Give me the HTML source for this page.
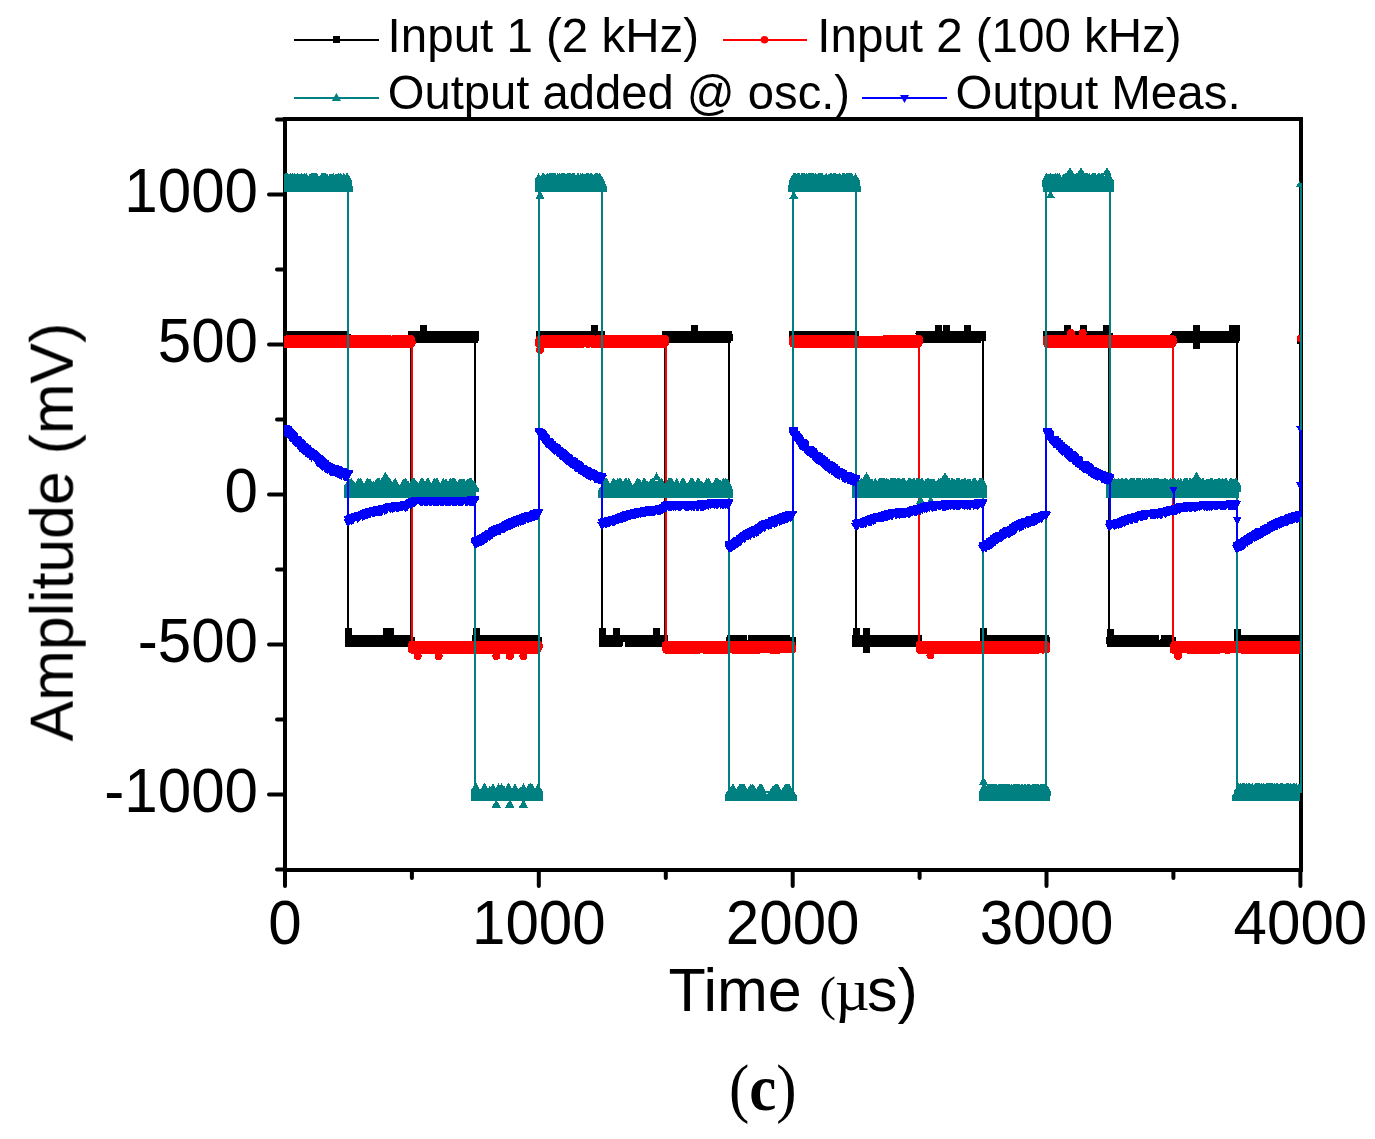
<!DOCTYPE html>
<html><head><meta charset="utf-8"><style>
html,body{margin:0;padding:0;background:#fff;overflow:hidden}
svg{display:block}
text{will-change:transform}
</style></head><body>
<svg width="1375" height="1139" viewBox="0 0 1375 1139">
<rect width="100%" height="100%" fill="#fff"/>
<text x="387.6" y="52.3" font-size="47.5" font-family="Liberation Sans, sans-serif">Input 1 (2 kHz)</text>
<text x="817.3" y="52.3" font-size="47.5" font-family="Liberation Sans, sans-serif">Input 2 (100 kHz)</text>
<text x="387.7" y="108.5" font-size="47.2" font-family="Liberation Sans, sans-serif">Output added @ osc.)</text>
<text x="955.5" y="108.5" font-size="47.5" font-family="Liberation Sans, sans-serif">Output Meas.</text>
<rect x="294" y="39" width="85" height="2" fill="#000"/><rect x="333" y="36" width="7" height="7" fill="#000"/>
<rect x="723" y="39" width="84" height="2" fill="#f00"/><circle cx="764.5" cy="39.8" r="3.8" fill="#f00"/>
<rect x="294" y="97" width="85" height="2" fill="#008080"/><path d="M336.4,92.9L341,100.9H331.8Z" fill="#008080"/>
<rect x="862" y="97" width="85" height="2" fill="#00f"/><path d="M900,94.9H909L904.5,102.9Z" fill="#00f"/>
<path d="M285,119 H1301 V870 H285 Z" fill="none" stroke="#000" stroke-width="4" stroke-linejoin="miter"/>
<path d="M277.0,119.6H285M269.0,194.6H285M277.0,269.6H285M269.0,344.6H285M277.0,419.6H285M269.0,494.6H285M277.0,569.6H285M269.0,644.6H285M277.0,719.6H285M269.0,794.6H285M277.0,869.6H285M285.0,870V886.0M411.9,870V878.0M538.8,870V886.0M665.8,870V878.0M792.7,870V886.0M919.6,870V878.0M1046.5,870V886.0M1173.4,870V878.0M1300.4,870V886.0" fill="none" stroke="#000" stroke-width="4" stroke-linecap="round"/>
<text transform="translate(258,211.9) scale(0.985,1.03)" font-size="61" text-anchor="end" font-family="Liberation Sans, sans-serif">1000</text>
<text transform="translate(258,361.9) scale(0.985,1.03)" font-size="61" text-anchor="end" font-family="Liberation Sans, sans-serif">500</text>
<text transform="translate(258,511.9) scale(0.985,1.03)" font-size="61" text-anchor="end" font-family="Liberation Sans, sans-serif">0</text>
<text transform="translate(258,661.9) scale(0.985,1.03)" font-size="61" text-anchor="end" font-family="Liberation Sans, sans-serif">-500</text>
<text transform="translate(258,811.9) scale(0.985,1.03)" font-size="61" text-anchor="end" font-family="Liberation Sans, sans-serif">-1000</text>
<text transform="translate(285.0,944) scale(0.985,1.03)" font-size="61" text-anchor="middle" font-family="Liberation Sans, sans-serif">0</text>
<text transform="translate(538.8,944) scale(0.985,1.03)" font-size="61" text-anchor="middle" font-family="Liberation Sans, sans-serif">1000</text>
<text transform="translate(792.7,944) scale(0.985,1.03)" font-size="61" text-anchor="middle" font-family="Liberation Sans, sans-serif">2000</text>
<text transform="translate(1046.5,944) scale(0.985,1.03)" font-size="61" text-anchor="middle" font-family="Liberation Sans, sans-serif">3000</text>
<text transform="translate(1300.4,944) scale(0.985,1.03)" font-size="61" text-anchor="middle" font-family="Liberation Sans, sans-serif">4000</text>
<text x="668.4" y="1011" font-size="61" font-family="Liberation Sans, sans-serif">Time</text>
<text x="819.6" y="1010" font-size="49.5" font-family="Liberation Serif, serif">(</text>
<text x="835" y="1010" font-size="60" font-family="Liberation Serif, serif">&#181;</text>
<text x="867" y="1011" font-size="61" font-family="Liberation Sans, sans-serif">s)</text>
<text transform="translate(72.7,741.4) rotate(-90)" x="0" y="0" font-size="60.75" font-family="Liberation Sans, sans-serif">Amplitude (mV)</text>
<text transform="translate(729,1110) scale(0.945,1)" x="0" y="0" font-size="64.5" font-family="Liberation Serif, serif">(<tspan font-weight="bold">c</tspan>)</text>
<defs><clipPath id="pl"><rect x="284" y="117" width="1018.5" height="755"/></clipPath><clipPath id="pm"><rect x="284" y="117" width="1016" height="755"/></clipPath></defs>
<g shape-rendering="crispEdges">
<path clip-path="url(#pl)" d="M285,337.0H347.8V640.5H411V337.0H475.2V640.5H538.6V337.0H601.6V640.5H664.9V337.0H729V640.5H792.5V337.0H855.5V640.5H918.7V337.0H982.9V640.5H1046.3V337.0H1109.3V640.5H1172.5V337.0H1236.8V640.5H1300.6" fill="none" stroke="#000" stroke-width="2"/>
<path d="M281.5,331L349,331L349.5,333.5L351,333.5L351,343L283.5,343L283,340.5L281.5,340.5ZM344.5,634.5L413,634.5L413.5,637L414.5,637L414.5,644L414,646.5L345.5,646.5L345,644L344.5,644ZM407.5,331L478.5,331L478.5,340.5L478,343L408.5,343L408,340.5L407.5,340.5ZM472,634.5L540,634.5L540.5,637L542,637L542,644L541.5,646.5L498,646.5L497.5,641.5L497,641.5L496.5,646.5L473,646.5L472.5,644L472,644ZM535.5,331L604.5,331L605,333.5L605,343L586,343L585.5,338L584,338L583.5,343L537,343L536.5,340.5L535.5,340.5ZM598.5,637L599,634.5L668,634.5L668,644L667,644L666.5,646.5L625,646.5L624.5,641.5L623,641.5L622.5,646.5L598.5,646.5ZM661.5,331L732,331L732.5,333.5L732.5,340.5L731.5,340.5L731,343L663.5,343L663,340.5L661.5,340.5ZM726,637L726.5,637L727,634.5L747,634.5L747.5,639.5L748,639.5L748.5,634.5L790,634.5L790.5,637L795.5,637L795.5,646.5L726,646.5ZM789,333.5L789.5,331L858.5,331L859,333.5L859,340.5L856.5,340.5L856,343L789,343ZM852,634.5L922,634.5L922,644L921.5,646.5L852.5,646.5L852,644ZM915.5,333.5L916,331L986,331L986,340.5L981,340.5L980.5,343L915.5,343ZM979.5,634.5L1048.5,634.5L1049,637L1049.5,637L1049.5,644L1049,646.5L981.5,646.5L981,644L979.5,644ZM1043,331L1109,331L1109.5,332.5L1112.5,332.8L1112.5,340.5L1111.5,340.5L1110.5,341.4L1110,341.4L1109.5,343L1044,343L1043.5,340.5L1043,340.5ZM1106,637L1106.5,636.5L1107,636.5L1107.5,634.5L1159,634.5L1159.5,639.5L1160.5,639.5L1161,634.5L1174,634.5L1174.5,637L1176,637L1176,644L1175.5,646.5L1107,646.5L1106.5,644.1L1106,644.1ZM1169.5,333.5L1171.5,333.5L1172,331L1240,331L1240,340.5L1239,340.5L1238.5,343L1169.5,343ZM1233.5,634.5L1303.5,634.5L1304,637L1304,644L1303,644L1302.5,646.5L1236.5,646.5L1236,644L1233.5,644Z" fill="#000" clip-path="url(#pm)"/>
<path d="M419.5,324.5h7v7h-7ZM345,628h7v7h-7ZM383,628h7v7h-7ZM387,628h7v7h-7ZM472.5,628h7v7h-7ZM590.5,324.5h7v7h-7ZM690.5,324.5h7v7h-7ZM599,628h7v7h-7ZM612.5,628h7v7h-7ZM652.5,628h7v7h-7ZM935,324.5h7v7h-7ZM943,324.5h7v7h-7ZM964,324.5h7v7h-7ZM853,628h7v7h-7ZM862.5,628h7v7h-7ZM862.5,646h7v7h-7ZM979.5,628h7v7h-7ZM1063.5,325h7v7h-7ZM1079.5,325h7v7h-7ZM1103,325h7v7h-7ZM1192.5,325h7v7h-7ZM1192.5,341.5h7v7h-7ZM1228.5,325h7v7h-7ZM1233,325h7v7h-7ZM1107,628.5h7v7h-7ZM1233.5,628.5h7v7h-7ZM1297.1,336.5h7v7h-7Z" fill="#000" clip-path="url(#pm)"/>
<path clip-path="url(#pl)" d="M285,341.5H411.6V647.3H538.6V341.5H665.5V647.3H792.5V341.5H919.3V647.3H1046.3V341.5H1173.1V647.3H1300.6V341.5" fill="none" stroke="#f00" stroke-width="2"/>
<path d="M281,341.5L281.5,339.6L283,338L284.5,335.9L287,335L350.5,335.1L351,335.3L370,335.1L371,335.5L390.5,335.1L391.5,335.5L412,335.1L414,336.4L414.5,337.1L415.5,340.6L415.5,344L415,345.9L413,347.7L410.5,347.9L409.5,347.7L401.5,347.9L400.5,347.7L389,347.9L387.5,347.5L374.5,347.9L374,347.7L333.5,347.9L333,347.7L315,347.9L314.5,347.7L307,347.9L306.5,347.7L284,347.9L282,346.6L281.5,345.9L281,344ZM408,643.1L409.5,641.4L426.5,640.9L427.5,641.3L435.5,640.9L437,641.4L446,640.9L447,641.3L522,640.9L540,641.1L541.5,642L542.5,643.9L542.5,648.2L540,652.6L537.5,653.8L511,653.5L507,653.6L417,653.5L411,653.6L409.5,652.8L408.5,651.5L408,649ZM535,339.8L535.5,339L536,337.3L537.5,335.6L553.5,335.1L595,335.3L595.5,335.5L601,335.1L618.5,335.3L619,335.5L644,335.1L645,335.5L648,335.1L666.5,335.3L668,336.2L669,338.1L669,343.3L668,346.1L666,347.7L642.5,347.8L641.5,347.5L591.5,347.8L590.5,347.4L587.5,348L585,346.8L582.5,348L568,347.8L567,347.5L537.5,347.8L536,347L535,345.7ZM661.5,644.2L662,642.8L664,641.1L686,641.1L716.5,640.9L765.5,641.1L783.5,641.1L792.5,640.9L794.5,642.2L795,643L795.5,644.7L796,645.5L796,651.6L794.5,653.2L771,653.7L769.5,653.2L754,653.7L753,653.5L750.5,653.7L738,653.7L732,653.5L731.5,653.3L729,653.8L703.5,653.7L702,653.2L699,653.8L665.5,653.7L663.5,652.5L663,651.8L661.5,647.9ZM788.5,338.4L789,337L791,335.3L808,335.3L854.5,335.1L856,335.8L920,335.1L922,336.4L922.5,337.2L923,340L923,343L922,344.5L921,346.6L919,347.9L910,347.7L899,347.9L898,347.5L849,347.9L823,347.9L822,347.5L802.5,347.9L801.5,347.5L792.5,347.9L790.5,346.7L790,346L788.5,342.1ZM915.5,643.6L916.5,641.9L919,640.8L923.5,641L924.5,641.2L1047,641L1048.5,641.8L1049.5,643.3L1050,645.8L1050,651.3L1048.5,653.1L1042.5,653.7L1040.5,652.8L1038,653.8L918.5,653.6L917,652.7L916,651L915.5,648.5ZM1042.5,337.8L1043.5,336.1L1046,335L1058.5,335.2L1059.5,335.4L1123,335.2L1124,335.4L1170.5,335.2L1171,335.4L1173.5,335.1L1175.5,336L1176.5,337.5L1177,340.4L1177,342.6L1175.5,346.4L1173.5,347.8L1155.5,347.8L1154.5,347.6L1046,347.8L1044.5,346.9L1043.5,345.2L1042.5,342.7ZM1169.5,645.7L1170.5,644.3L1171.5,642.3L1173.5,641L1179,641L1180,641.6L1183,640.8L1230.5,641L1231.5,641.4L1253.5,640.9L1254.5,641.3L1300,641L1301.5,642L1302.5,643.7L1303.5,646.4L1303.5,648.2L1303,650.9L1302,652.6L1299.5,653.8L1241.5,653.6L1240.5,653.3L1225,653.6L1223.5,653L1219,653.7L1187,653.6L1186.5,653.4L1172,653.6L1170.5,652.8L1169.5,651.4Z" fill="#f00" clip-path="url(#pm)"/>
<path d="M413.7,656a4,4 0 1,0 8,0a4,4 0 1,0 -8,0ZM434.6,656a4,4 0 1,0 8,0a4,4 0 1,0 -8,0ZM492.3,656a4,4 0 1,0 8,0a4,4 0 1,0 -8,0ZM505.8,656a4,4 0 1,0 8,0a4,4 0 1,0 -8,0ZM519.4,656a4,4 0 1,0 8,0a4,4 0 1,0 -8,0ZM536,350a4,4 0 1,0 8,0a4,4 0 1,0 -8,0ZM926.4,655.4a4,4 0 1,0 8,0a4,4 0 1,0 -8,0ZM1067.2,333a4,4 0 1,0 8,0a4,4 0 1,0 -8,0ZM1078.7,333a4,4 0 1,0 8,0a4,4 0 1,0 -8,0ZM1174.2,655.9a4,4 0 1,0 8,0a4,4 0 1,0 -8,0ZM1296.6,338.5a4,4 0 1,0 8,0a4,4 0 1,0 -8,0Z" fill="#f00" clip-path="url(#pm)"/>
<path clip-path="url(#pl)" d="M285,182.5H348.3V487.8H475V792.3H538.6V182.5H602.1V487.8H728.9V792.3H792.5V182.5H856V487.8H982.7V792.3H1046.3V182.5H1109.8V487.8H1236.5V792.3H1300.6V182.5" fill="none" stroke="#008080" stroke-width="2"/>
<path d="M280.5,180.8L285,173L288,173L288.5,173.9L289,173L289.5,173.9L290,173.9L290.5,173L291,173L291.5,173.9L292,173L293,173L293.5,173.9L294,173.9L294.5,173L295,173L296,174.7L297,173L298,173L298.5,173.9L299,173L300,174.7L301,173L302,173L303,174.7L304,173L304.5,173L305,173.9L305.5,173.9L306,173L306.5,173L308,175.6L308.5,175.6L310,173L310.5,173.9L311,173.9L311.5,173L312,173.9L312.5,173L313,173.9L313.5,173L314,173.9L314.5,173L317,173L319,176.5L319.5,176.5L321.5,173L325.5,173L326,173.9L326.5,173.9L327,173L328.5,175.6L330,173L330.5,173.9L331,173L331.5,173.9L332,173L332.5,173.9L333,173.9L333.5,173L334.5,174.7L335,174.7L336,173L337,174.7L338,173L339,173L339.5,173.9L340,173L341,173L342,174.7L342.5,174.7L343.5,173L344,173L345,174.7L345.5,174.7L346.5,173L347.5,173L352,180.8L352.5,185.8L352.5,192L284,192L283.5,186.5L280.5,186.5ZM344,491.3L344.5,485.5L348.5,478.5L349,478.3L349.5,478.5L350,478.3L350.5,478.5L351.5,478.3L353,480.6L353.5,480.5L355,482.7L355.5,482.9L358,478.5L359,478.3L359.5,478.5L361,478.3L364,483.6L367,478.5L368,478.3L368.5,478.5L369,478.3L369.5,478.5L370,478.3L372,481.8L372.5,481.9L373,481.1L373.5,480.9L374,481.8L374.5,482L376.5,478.5L378.5,478.3L379,478.5L379.5,478.3L381,481L382.5,478.5L384.5,478.3L386,481L387.5,478.5L390,478.3L392,481.8L392.5,482L394.5,478.5L395.5,478.3L399.5,485.3L403.5,478.5L404,478.3L404.5,479.2L405,478.5L406,478.3L407,480.1L407.5,480.6L408,480.4L409.5,482.9L412,478.5L412.5,478.3L413,478.5L413.5,478.3L414,478.5L414.5,478.3L416,481L416.5,481.4L417,481.2L418,482.9L418.5,482.9L421,478.5L421.5,478.3L422,478.5L423,478.3L425,481.8L427,478.5L428.5,478.3L431,482.7L431.5,482.9L434,478.5L435,478.3L435.5,479.2L436,478.5L437.5,478.3L440,482.7L440.5,482.9L443,478.5L443.5,478.3L444.5,480.1L445.5,478.5L446,478.3L448,481.8L450,478.5L451,478.3L451.5,479.2L452,478.5L455,478.3L457,481.8L457.5,482L459.5,478.5L460,478.3L460.5,479.2L461,479.4L461.5,478.5L462,478.3L462.5,478.5L463,478.3L463.5,478.5L464,478.3L465.5,481L466,481.1L467.5,478.5L468,478.3L468.5,479.2L469,478.5L469.5,478.3L470,478.5L470.5,478.3L471,478.5L471.5,478.3L473,481L474,481.5L474.5,481.3L479,489.4L479.5,491.6L479.5,491.8L476.5,491.8L476,497.6L344,497.6ZM470.5,791.2L475,783.3L475.5,783.3L476,784.2L476.5,783.3L480,789.4L480.5,789.4L484,783.3L485,783.3L488,788.6L489.5,786.1L490,786.4L490.5,787.3L493,783.3L495.5,787.7L496,787.7L498.5,783.3L500,786L501.5,783.3L503,785.9L503.5,786.2L504,785.4L505.5,787.7L508,783.3L509,783.3L512,788.6L515,783.3L518.5,789.4L519,789.3L520.5,786.7L521,786.2L521.5,786.6L523.5,783.3L526,787.7L526.5,787.7L529,783.3L529.5,784.2L530,784.2L530.5,783.3L531,783.3L531.5,784.2L532,783.3L535,788.6L538,783.3L542.5,791.2L543,796L543,801.2L471.5,801.2L471,796.3L470.5,796.3ZM534.5,180.1L538.5,173.2L540.5,176.3L542.5,173.2L543,173.7L543.5,173.2L544,173.2L545.5,175.4L547,173.2L547.5,173.2L548.5,174L549,173.2L550.5,173.2L551,173.7L551.5,173.2L555.5,173.2L556.5,174.6L557.5,173.2L558,173.2L559,174L559.5,173.2L560,173.2L560.5,173.7L561,173.2L564.5,173.2L565.5,174L566,173.2L567,174L567.5,173.2L570.5,173.2L571.5,174L572,173.2L572.5,173.2L573,173.7L573.5,173.2L574,173.7L574.5,173.2L576,175.4L577.5,173.2L578,173.7L578.5,173.2L579.5,174.6L580.5,173.2L581,173.2L582,174L582.5,173.2L583,173.2L584,174.6L585,173.2L585.5,173.7L586,173.2L589,173.2L590,174L590.5,173.2L591,173.7L591.5,173.2L592,173.2L593.5,175.4L595,173.2L595.5,173.2L596,173.7L596.5,173.2L598,173.2L598.5,173.7L599,173.2L600,173.2L604.5,180.7L605,183.5L606.5,186.1L606.5,192L535,192L534.5,186.5ZM598,491L600.5,486.7L605,478.3L606.5,478.3L607,478.6L609.5,483L610,483.5L613,478.3L614,478.3L614.5,478.6L616,480.9L617.5,478.3L618,478.3L618.5,478.6L619,478.3L620.5,478.3L621,478.6L623,481.7L625,478.3L626.5,478.3L627,478.6L627.5,479.5L628,479.1L628.5,478.3L629,478.6L632.5,484.7L633,485.2L637,478.3L637.5,478.3L638.5,479.1L639,478.3L639.5,478.6L641.5,481.7L643.5,478.3L644,478.6L644.5,478.3L645,478.6L646.5,481.2L647,480.9L647.5,480.9L648.5,482L649,481.7L651,478.3L651.5,478.6L652,478.3L652.5,478.3L653,478.6L653.5,478.3L654,478.6L655.5,481.2L656,481.5L656.5,480.7L657,481L657.5,480.9L659,478.3L659.5,478.6L660.5,480L661.5,478.3L662,478.6L665,483.8L665.5,483.5L668.5,478.3L671.5,478.3L672,478.6L674,481.8L674.5,481.7L676.5,478.3L677,478.6L679.5,482.6L682,478.3L683.5,478.3L684,478.6L687,483.8L687.5,483.5L690.5,478.3L691,478.6L691.5,478.3L692,478.6L692.5,478.3L693,478.6L695,482.1L695.5,481.7L697.5,478.3L698,478.6L698.5,478.3L699,478.6L700.5,481.2L701,481.4L701.5,480.5L702,480.8L703.5,483.4L706.5,478.3L707.5,479.1L708,478.3L708.5,478.3L709,478.6L712,483.8L712.5,483.5L715.5,478.3L717.5,478.3L718,478.6L719,480.1L720,480.8L720.5,480.2L721,480.2L721.5,480.6L723,478.3L724,478.3L725,479.1L725.5,478.3L726.5,479.1L727,478.3L727.5,478.6L731.5,485.6L732,488.1L733,489.9L733,491.8L732.5,497.6L598,497.6ZM724.5,795.9L728.5,788.9L729,788.6L729.5,789.2L732.5,784L733,783.6L736,788.8L736.5,789.2L739.5,784L740,783.6L740.5,783.6L741,784.5L742,783.6L744,783.6L747,788.8L747.5,789.2L750.5,784L751,783.6L751.5,784.5L752.5,783.6L753.5,785.3L754,785.6L756,789.1L756.5,789.2L759.5,784L760,783.6L760.5,784L761,783.6L761.5,783.6L765.5,790.6L766,793.5L768,793.5L772.5,785.9L773,785.5L773.5,786.4L775,784L775.5,783.6L776.5,783.6L777,784L777.5,783.6L781,789.7L781.5,790L785,784L785.5,783.6L787.5,783.6L788,784.5L789,783.6L792,788.8L792.5,788.4L797,796.2L797,796.3L796.5,801.2L724.5,801.2ZM788,186.2L788.5,185.4L789,180.7L793.5,173.1L794,173.8L794.5,173.1L796,173.1L796.5,173.8L797,173.1L799.5,173.1L800.5,174.7L801.5,173.1L802.5,173.1L803,173.8L803.5,173.1L804,173.8L804.5,173.1L805,173.1L805.5,173.8L806,173.1L807,173.1L807.5,174L808,173.8L808.5,173.1L812.5,173.1L813,173.8L813.5,173.1L814,173.1L814.5,174L815,173.8L815.5,173.1L816,174L816.5,173.8L817,173.1L817.5,173.8L818,173.1L820.5,173.1L821,173.8L821.5,173.1L822.5,173.1L824,175.7L824.5,175.5L826,173.1L826.5,173.1L827.5,174.8L828,174.7L829,173.1L829.5,174L830,173.8L830.5,173.1L831.5,173.1L832,174L832.5,173.8L833,173.1L836,173.1L836.5,173.8L837,173.1L838,174.7L839,173.1L840,173.1L841,174.8L841.5,174.7L842.5,173.1L844.5,173.1L845,174L845.5,173.8L846,173.1L846.5,173.1L847,173.8L847.5,173.1L848,173.8L848.5,173.1L849.5,173.1L850,173.8L850.5,173.1L852,173.1L853.5,175.7L854,175.5L855.5,173.1L860,180.9L860.5,186.3L860.5,192L788,192ZM851.5,485.8L856,478L856.5,478L857,478.9L857.5,478.9L858,478L858.5,478L859.5,479.7L860,479.7L861,478L862,478L862.5,478.9L863,478L864,479.7L865,478L865.5,478.9L866,478L867,479.7L868,478L869.5,478L870.5,479.7L871,479.7L872,478L873.5,480.6L875,478L875.5,478L877,480.6L877.5,480.6L879,478L881.5,478L882,478.9L882.5,478L883,478.9L883.5,478L884,478.9L884.5,478L885,478L885.5,478.9L886,478.9L886.5,478L887,478.9L887.5,478.9L888,478L889,479.7L889.5,479.7L890.5,478L891,478.9L891.5,478L892,478.9L892.5,478L893.5,478L894,478.9L894.5,478L895,478.9L895.5,478L896,478.9L896.5,478.9L897,478L897.5,478L898,478.9L898.5,478L899,478.9L899.5,478L900,478L901,479.7L902,478L904.5,478L906.5,481.5L908.5,478L909,478.9L909.5,478L910,478.9L910.5,478L911,478L911.5,478.9L912,478L912.5,478.9L913,478L914.5,478L915.5,479.7L916.5,478L917,478.9L917.5,478L918,478L918.5,478.9L919,478L920,478L920.5,478.9L921,478.9L921.5,478L922.5,478L924,480.6L924.5,480.6L926,478L926.5,478.9L927,478L927.5,478L928,478.9L928.5,478L929,478L929.5,478.9L930,478L930.5,478.9L931,478L931.5,478.9L932,478L932.5,478.9L933,478L933.5,478.9L934,478L936,481.5L936.5,481.5L938.5,478L939,478L939.5,478.9L940,478.9L940.5,478L941,478L941.5,478.9L942,478.9L942.5,478L943,478L944,479.7L945,478L945.5,478.9L946,478.9L946.5,478L949.5,478L950.5,479.7L951.5,478L952,478.9L952.5,478L953,478.9L953.5,478.9L954,478L955,479.7L955.5,479.7L956.5,478L959.5,478L960.5,479.7L961,479.7L962,478L963,479.7L964,478L965.5,478L966.5,479.7L967,479.7L968,478L968.5,478.9L969,478L969.5,478.9L970,478L971.5,480.6L973,478L973.5,478L974,478.9L974.5,478L975,478.9L975.5,478L977.5,481.5L979.5,478L980.5,478L981,478.9L981.5,478L982,478.9L982.5,478L987,485.8L987,491.8L986.5,497.6L852.5,497.6L852,491.8L851.5,491.8ZM978.5,795.6L979,794.7L979.5,790.7L983.5,783.7L985,783.9L986.5,786.3L988,783.7L988.5,783.9L989,784.6L989.5,783.7L990,783.9L995,783.7L995.5,783.9L996,784.6L996.5,783.7L997,783.9L997.5,784.7L998,784.6L998.5,783.7L999,783.9L1001,783.7L1001.5,783.9L1002,783.7L1002.5,783.9L1003,784.6L1003.5,783.7L1008,783.7L1008.5,783.9L1009,783.7L1009.5,783.9L1010.5,785.4L1011.5,783.7L1012,783.9L1012.5,784.7L1013,784.6L1013.5,783.7L1018,783.7L1018.5,783.9L1019.5,783.7L1020,783.9L1020.5,784.6L1021,783.7L1023,783.9L1023.5,784.6L1024,783.7L1026,783.9L1026.5,784.6L1027,783.7L1027.5,783.9L1028,783.7L1028.5,783.9L1029.5,783.7L1030,783.9L1031,785.6L1031.5,785.4L1032.5,783.7L1033,783.9L1033.5,783.7L1034,783.9L1034.5,783.7L1035,783.9L1038.5,783.7L1039,783.9L1039.5,784.6L1040,783.7L1041,783.9L1042,783.7L1042.5,783.9L1044,783.7L1044.5,783.9L1045,784.7L1045.5,784.6L1046,783.7L1046.5,783.9L1050.5,790.8L1050.5,796.3L1050,801.2L978.5,801.2ZM1042,180.5L1046,173.5L1047,173.3L1047.5,173.5L1048,173.3L1048.5,173.5L1049,173.3L1049.5,173.5L1051,173.3L1051.5,174.2L1052,174.4L1052.5,173.5L1053,173.3L1054,175.1L1055,173.5L1056,173.3L1056.5,173.5L1058,173.3L1058.5,174.2L1059,173.5L1059.5,173.3L1061.5,176.8L1063.5,173.5L1064,173.3L1064.5,173.5L1067,173.3L1067.5,174.2L1068,173.5L1069,173.3L1070,175.1L1070.5,175.3L1071.5,173.5L1072,173.3L1072.5,173.5L1073,173.3L1073.5,173.5L1074,173.3L1075,175.1L1076,173.5L1076.5,173.3L1077,174.2L1077.5,173.5L1079,173.3L1079.5,174.2L1080,173.5L1080.5,173.3L1081.5,175.1L1082.5,173.5L1087.5,173.3L1088,174.2L1088.5,173.5L1089.5,173.3L1090.5,175.1L1091,175.3L1092,173.5L1095.5,173.3L1096.5,175.1L1097,175.3L1098,173.5L1099.5,173.3L1100,174.2L1100.5,173.5L1103,173.3L1104.5,176L1106,173.5L1107.5,173.3L1108,173.5L1109.5,173.3L1113.5,180.3L1114,185.7L1114,192L1043,192L1042.5,186.5L1042,186.5ZM1105.5,485.6L1109.5,478.6L1110,478.3L1110.5,478.6L1111,478.3L1111.5,478.6L1112,478.3L1112.5,478.6L1113,478.3L1113.5,478.6L1114,478.3L1114.5,478.3L1115,479.1L1116,478.3L1116.5,478.6L1117,478.3L1117.5,478.6L1118,478.3L1119,478.3L1120,480L1121,478.6L1121.5,478.3L1122,478.6L1122.5,478.3L1123,478.3L1123.5,478.6L1124,478.3L1124.5,478.6L1125,478.3L1127,478.3L1128,480L1128.5,480.3L1129.5,478.6L1130,478.3L1133.5,478.3L1134,478.6L1134.5,478.3L1135,479.1L1135.5,479.5L1136,478.6L1136.5,478.3L1137,478.6L1137.5,478.3L1139.5,478.3L1140,478.6L1140.5,478.3L1141,479.1L1141.5,479.5L1142,478.6L1142.5,478.3L1143,478.3L1143.5,479.1L1144.5,478.3L1145,478.3L1145.5,478.6L1146,478.3L1146.5,478.3L1147,479.1L1148,478.3L1148.5,478.3L1149,478.6L1149.5,478.3L1150,478.3L1150.5,478.6L1151,478.3L1152,478.3L1152.5,479.1L1153.5,478.3L1154.5,478.3L1155,478.6L1155.5,478.3L1156,478.6L1156.5,478.3L1159,478.3L1159.5,478.6L1160,478.3L1160.5,479.1L1161,479.5L1161.5,478.6L1162,478.3L1162.5,479.1L1163,479.5L1163.5,478.6L1164,478.3L1165.5,478.3L1166,479.1L1167,478.3L1168,480L1168.5,480.2L1169.5,478.6L1170,478.3L1171,478.3L1171.5,478.6L1172,478.3L1172.5,478.6L1173,478.3L1173.5,478.3L1174,478.6L1174.5,478.3L1175,478.3L1176,480L1176.5,480.3L1177.5,478.6L1178,478.3L1178.5,478.3L1179,479.1L1179.5,479.5L1180,478.6L1180.5,478.3L1181,478.3L1182.5,480.9L1184,478.6L1184.5,478.3L1186.5,478.3L1187,478.6L1187.5,478.3L1188,479.1L1188.5,479.5L1189,478.6L1189.5,478.3L1190,478.6L1190.5,478.3L1191,479.1L1192,478.3L1192.5,478.6L1193,478.3L1194.5,478.3L1195.5,480L1196.5,478.6L1197,478.3L1197.5,478.6L1198,478.3L1198.5,479.1L1199.5,478.3L1201,478.3L1201.5,478.6L1202,478.3L1203.5,478.3L1205,480.9L1206.5,478.6L1207,478.3L1207.5,478.6L1208,478.3L1208.5,479.1L1209,479.5L1209.5,478.6L1210,478.3L1212.5,478.3L1213.5,480L1214.5,478.6L1215,478.3L1215.5,479.1L1216,479.5L1216.5,478.6L1217,478.3L1217.5,478.6L1218,478.3L1218.5,478.3L1219,478.6L1219.5,478.3L1220,479.1L1221,478.3L1221.5,478.6L1222,478.3L1223,478.3L1223.5,478.6L1224,478.3L1224.5,479.1L1225.5,478.3L1226.5,478.3L1228,480.9L1228.5,481.2L1230,478.6L1230.5,478.3L1231.5,478.3L1232,479.1L1233,478.3L1233.5,478.6L1234,478.3L1234.5,478.6L1235,478.3L1236.5,478.3L1240.5,485.2L1241,491.5L1241,491.8L1239,491.8L1238.5,497.6L1106,497.6L1105.5,491.8ZM1232,796.2L1233.5,793.6L1234,791.3L1238.5,783.4L1239,784.1L1239.5,784.3L1240,783.4L1241,783.4L1241.5,784.1L1242,783.4L1245,783.4L1245.5,784.1L1246,783.4L1247,783.4L1247.5,784.1L1248,783.4L1248.5,783.4L1249,784.1L1249.5,783.4L1250,784.1L1250.5,784.3L1251,783.4L1251.5,784.1L1252,783.4L1252.5,783.4L1253.5,785L1254,785.2L1255,783.4L1256.5,783.4L1257,784.1L1257.5,783.4L1258,784.1L1258.5,783.4L1259,784.1L1259.5,783.4L1260,784.1L1260.5,784.3L1261,783.4L1262,783.4L1262.5,784.1L1263,784.3L1263.5,783.4L1264,784.1L1264.5,784.3L1265,783.4L1265.5,784.1L1266,784.3L1266.5,783.4L1273,783.4L1273.5,784.1L1274,784.3L1274.5,783.4L1275,784.1L1275.5,784.3L1276,783.4L1278,783.4L1279,785L1280,783.4L1280.5,783.4L1281,784.1L1281.5,783.4L1282,784.1L1282.5,783.4L1283,783.4L1284,785L1285,783.4L1285.5,784.1L1286,784.3L1286.5,783.4L1288.5,783.4L1289,784.1L1289.5,784.3L1290,783.4L1291,783.4L1291.5,784.1L1292,783.4L1292.5,784.1L1293,784.3L1293.5,783.4L1294,784.1L1294.5,783.4L1295,784.1L1295.5,784.3L1296,783.4L1296.5,783.4L1297.5,785L1298,785.2L1299,783.4L1303.5,791.1L1304,794.2L1305,796L1305,801.2L1232,801.2Z" fill="#008080" clip-path="url(#pm)"/>
<path d="M385.4,471.6L390,479.6H380.8ZM496.3,799.5L500.9,807.5H491.7ZM509.8,799.5L514.4,807.5H505.2ZM523.4,799.5L528,807.5H518.8ZM540,190.8L544.6,198.8H535.4ZM656.6,472.3L661.2,480.3H652ZM866.5,472L871.1,480H861.9ZM945,472L949.6,480H940.4ZM920.5,496L925.1,504H915.9ZM930.7,496L935.3,504H926.1ZM983.5,776.9L988.1,784.9H978.9ZM793.8,190.8L798.4,198.8H789.2ZM1050.5,190.4L1055.1,198.4H1045.9ZM1070,167L1074.6,175H1065.4ZM1081,167L1085.6,175H1076.4ZM1107,167L1111.6,175H1102.4ZM1196.5,471.5L1201.1,479.5H1191.9ZM1300.6,179L1305.2,187H1296Z" fill="#008080" clip-path="url(#pm)"/>
<path clip-path="url(#pl)" d="M285,430.3L285,430.3L288,431.8L291,434.4L294,437.5L297,440.7L300,443.9L303,446.6L306,449.3L309,451.9L312,454.4L315,457L318,459.4L321,461.8L324,464.2L327,466.4L330,468.7L333,470.2L336,471.1L339,471.9L342,473.1L345,474.3L348,475.5L348.3,475.6V520.5L348.3,520.5L351.3,519.1L354.3,517.9L357.3,517.1L360.3,516.1L363.3,514.8L366.3,513.6L369.3,512.8L372.3,512.1L375.3,511.5L378.3,510.9L381.3,510.1L384.3,509.1L387.3,508.4L390.3,507.9L393.3,507.4L396.3,506.9L399.3,506.5L402.3,506.4L405.3,506.3L408.3,504.8L411.3,502.7L414.3,502L417.3,501.6L420.3,501.5L423.3,501.5L426.3,501.5L429.3,501.5L432.3,501.5L435.3,501.5L438.3,501.5L441.3,501.5L444.3,501.5L447.3,501.5L450.3,501.5L453.3,501.5L456.3,501.5L459.3,501.5L462.3,501.5L465.3,501.5L468.3,501.5L471.3,501.5L474.3,501.5L475.2,501.5V542.3L475.2,542.3L478.2,540.9L481.2,539.5L484.2,537.8L487.2,535.7L490.2,533.7L493.2,532L496.2,530.3L499.2,529.1L502.2,527.8L505.2,526.1L508.2,524.5L511.2,523.4L514.2,522.3L517.2,521.1L520.2,519.9L523.2,518.7L526.2,517.7L529.2,516.7L532.2,515.8L535.2,514.9L538.2,514.1L538.6,514V430.3L538.9,430.3L541.9,434L544.9,437.6L547.9,440.9L550.9,443.9L553.9,446.8L556.9,449.4L559.9,452L562.9,454.5L565.9,456.9L568.9,459.3L571.9,461.6L574.9,463.8L577.9,466L580.9,468.1L583.9,470.2L586.9,472.1L589.9,473.7L592.9,475.4L595.9,476.5L598.9,477.6L601.9,478.7L602.1,478.8V523.5L602.1,523.5L605.1,522.8L608.1,522L611.1,521.1L614.1,520.2L617.1,519.2L620.1,518.1L623.1,516.9L626.1,515.7L629.1,514.8L632.1,514L635.1,513.4L638.1,513L641.1,512.5L644.1,511.8L647.1,511.2L650.1,511L653.1,510.8L656.1,510.4L659.1,510L662.1,508.5L665.1,507L668.2,506.4L671.2,506.3L674.2,506.3L677.2,506.2L680.2,506.1L683.2,506L686.2,506L689.2,505.9L692.2,505.8L695.2,505.7L698.2,505.7L701.2,505.6L704.2,505.5L707.2,504.9L710.2,504.2L713.2,504L716.2,504L719.2,504L722.2,504L725.2,504L728.2,504L729,504V546.3L729,546.3L732,544.7L735,542.8L738,540.7L741,538.6L744,536.6L747,535L750,533.3L753,531.8L756,530.3L759,528.4L762,526.5L765,525.1L768,523.8L771,522.6L774,521.5L777,520.4L780,519.2L783,518.1L786,517.3L789,516.4L792,515.6L792.5,515.5V430.3L792.7,430.3L795.7,434.7L798.7,439.1L801.7,442.6L804.7,445.6L807.7,448.5L810.7,451.1L813.7,453.7L816.7,456.2L819.7,458.6L822.7,461L825.7,463.3L828.7,465.5L831.7,467.7L834.7,469.8L837.7,471.9L840.7,473.8L843.7,475.4L846.7,477.1L849.7,478.2L852.7,479.3L855.7,480.4L856,480.5V524.5L856,524.5L859,523.9L862,523.1L865,522.2L868,521.2L871,520L874,518.8L877,518.1L880,517.5L883,516.6L886,515.6L889,514.8L892,514.1L895,513.6L898,513.4L901,513.1L904,512.9L907,512.6L910,511.7L913,510.9L916,510.2L919,509.4L922,508.5L925,507.4L928,506.8L931,506.6L934,506.4L937,506.1L940,505.8L943,505.5L946,505.2L949,505L952,504.9L955,504.8L958,504.8L961,504.7L964,504.6L967,504.6L970,504.5L973,504.4L976,504.4L979,504.3L982,504.2L982.9,504.2V546.8L982.9,546.8L985.9,545.2L988.9,543.3L991.9,541.2L994.9,539.1L997.9,537.1L1000.9,535.5L1003.9,533.8L1006.9,532.3L1009.9,530.8L1012.9,528.9L1015.9,527L1018.9,525.6L1021.9,524.3L1024.9,523.1L1027.9,522L1030.9,520.9L1033.9,519.7L1036.9,518.6L1039.9,517.8L1042.9,516.9L1045.9,516.1L1046.3,516V430.3L1046.5,430.3L1049.5,434.2L1052.5,438.1L1055.5,441.4L1058.5,444.4L1061.5,447.3L1064.5,449.9L1067.5,452.5L1070.5,455L1073.5,457.4L1076.5,459.8L1079.5,462.1L1082.5,464.3L1085.5,466.5L1088.5,468.6L1091.5,470.7L1094.5,472.6L1097.5,474.2L1100.5,475.9L1103.5,477L1106.5,478.1L1109.5,479.2L1109.8,479.3V525.3L1109.8,525.3L1112.8,524.7L1115.8,523.9L1118.8,523L1121.8,522L1124.8,520.8L1127.8,519.6L1130.8,518.9L1133.8,518.3L1136.8,517.4L1139.8,516.4L1142.8,515.6L1145.8,514.9L1148.8,514.4L1151.8,514.2L1154.8,513.9L1157.8,513.7L1160.8,513.4L1163.8,512.5L1166.8,511.7L1169.8,511L1172.8,510.2L1175.8,509.3L1178.8,508.2L1181.8,507.6L1184.8,507.4L1187.8,507.2L1190.8,506.9L1193.8,506.6L1196.8,506.3L1199.8,506L1202.8,505.8L1205.8,505.7L1208.8,505.6L1211.8,505.6L1214.8,505.5L1217.8,505.4L1220.8,505.4L1223.8,505.3L1226.8,505.2L1229.8,505.2L1232.8,505.1L1235.8,505L1236.8,505V546.8L1236.8,546.8L1239.8,545.2L1242.8,543.3L1245.8,541.2L1248.8,539.1L1251.8,537.1L1254.8,535.5L1257.8,533.8L1260.8,532.3L1263.8,530.8L1266.8,528.9L1269.8,527L1272.8,525.6L1275.8,524.3L1278.8,523.1L1281.8,522L1284.8,520.9L1287.8,519.7L1290.8,518.6L1293.8,517.8L1296.8,516.9L1299.8,516.1L1300.6,516V430.3" fill="none" stroke="#00f" stroke-width="2"/>
<path d="M280.5,426.7L281,425.2L290,425.2L290.5,426L291,426L292,426.9L292.5,428.1L293,428.1L294,429.6L294.5,429.6L295,430.6L295.5,430.6L296.5,431.6L297,432.8L297.5,432.8L298,436.1L300.5,436.1L302,437.8L302.5,438.8L303,438.8L304,440.2L304.5,440.2L305.5,441.4L306,441.4L306.5,442.7L307.5,442.7L308,443.6L308.5,443.6L309.5,444.5L310,445.4L310.5,445.4L311,446.7L312,446.7L312.5,447.5L313,447.5L314,448.7L314.5,448.7L315.5,449.6L316,450.4L316.5,450.4L320.5,453.7L321,454.5L321.5,454.5L322,455.3L322.5,455.3L323.5,456.1L324,456.9L324.5,456.9L325,457.7L325.5,457.7L326,458.5L326.5,458.5L327,459.6L328,459.6L328.5,460L329,461.5L330.5,461.5L331,461.9L331.5,463L332.5,463L335,464.8L339,465.4L339.5,466L341.5,466.1L342,466.5L342.5,466.5L343,467.5L345,467.5L345.5,468.1L347,468.3L347.5,468.8L348,468.8L348.5,469.5L350,469.5L350.5,469.9L352.5,470.1L352.5,472.5L347.5,481.8L347,480.9L346.5,480.6L346,481.5L345.5,480.6L345,481.2L344,480.8L342.5,478.3L341.5,479.7L341,479.5L340.5,478.6L340,479.1L338.5,478.4L338,477.5L337.5,478.1L336.5,476.7L336,477.6L335,477.3L334,475.6L333.5,475.9L333,476.8L332.5,475.9L332,476.8L331,475.5L330.5,476.4L328.5,472.8L327.5,474.4L327,474L326,472.3L325.5,472.9L324.5,472.2L323.5,470.4L323,471L322.5,470.7L322,469.8L321.5,469.9L321,469L320.5,469.1L320,468.2L319.5,468.3L318,465.8L317.5,466.7L317,465.8L316.5,465.9L313,459.7L312.5,460L311.5,461.8L310,459.2L309.5,460.1L308.5,458.3L308,458.9L307.5,458L307,458L306,456.7L305.5,456.7L304,454.1L303.5,454.9L303,454L302.5,454L301.5,452.7L301,452.8L300,451L299.5,451.5L298.5,449.7L298,450.1L296,446.5L295.5,447.4L294.5,445.6L294,445.8L293,444.3L292.5,444L291,441.4L290.5,441.9L290,441L289.5,441L288.5,439.2L288,439.3L286.5,436.6L286,437.4L285.5,436.5L285,436.6L280.5,428.6ZM344,515.9L347,515.3L347.5,514.8L348,514.8L348.5,514.2L349,514.2L352.5,512.8L360,511.1L360.5,510L361.5,509.7L362,509.2L363,509.2L363.5,508.7L366,508.4L366.5,507.9L369,507.5L369.5,507.2L372.5,506.8L373,506.4L377,506.4L377.5,505.5L378,505.5L379.5,504.9L382.5,504.9L383,503.7L388.5,503L389,502.6L390,502.6L393,502.1L404,501.1L406.5,499.3L407.5,499.3L408,497.9L410.5,497.9L411,497L479,496.4L479.5,497.5L479.5,497.9L475.5,505L475,505.1L474.5,504.5L473.5,506.2L472.5,506.1L472,506.2L471.5,506.1L470,506.2L469.5,506.1L469,505.2L468.5,505.4L468,506.2L466.5,506.1L466,506.2L465.5,506.1L464.5,504.3L464,504.5L463,506.2L462.5,506.1L460.5,506.2L460,506.1L458.5,506.2L458,506.1L457.5,505.4L457,506.2L455.5,506.1L454.5,506.2L454,506.1L453.5,506.2L453,506.1L452.5,506.2L452,506.1L451.5,505.4L451,506.2L449,506.1L447,506.2L446.5,506.1L446,505.4L445.5,506.2L445,506.1L444.5,505.2L443.5,506.2L441.5,506.1L440.5,506.2L440,506.1L439.5,505.4L439,506.2L438.5,506.1L437,506.2L436.5,506.1L435.5,506.2L435,506.1L433.5,506.2L433,506.1L432.5,505.4L432,506.2L431.5,506.1L430,506.2L429.5,506.1L428.5,504.5L427.5,506.2L425.5,506.1L425,506.2L424.5,506.1L424,505.2L423.5,505.4L423,506.2L420,506.1L419,504.3L416.5,504.5L415,506.9L413,507.5L412.5,507.3L411.5,508.6L411,508.5L410.5,507.6L409,508.6L407.5,511.3L406.5,511.4L406,511.3L405.5,511.6L405,511.5L404,509.7L403,511.2L401,511.1L400.5,510.5L400,511.4L399.5,511.2L398.5,511.6L398,511.4L397,511.9L396.5,511.7L396,510.8L395.5,510.5L394.5,512.3L393.5,512.2L392,512.7L391,512.1L390.5,513L390,512.8L389,511L388.5,511.1L387,513.6L384.5,514.5L384,514.3L383.5,513.4L382.5,515.2L382,515L381.5,515.5L378,516.2L377.5,516L376,516.6L375,516L374.5,516.9L374,516.7L373,517.2L372.5,517L372,516.2L371.5,516.1L370.5,517.9L369.5,518.1L369,518L368.5,518.4L368,518.2L367,518.9L366.5,518.7L366,519.3L365,519.2L364.5,520.1L363,520.7L362.5,520.6L361.5,519.2L360.5,519.5L359,522.1L358,521.6L357.5,522.5L357,522.3L356,520.7L355,521.1L353.5,523.8L353,523.6L352.5,524.3L352,524.2L351.5,524.9L351,524.7L350.5,523.8L350,523.9L349,525.7L348.5,525.5L344,517.4ZM471,538.8L471.5,538.8L472,537.1L474,537.1L474.5,536.2L475.5,536L476,535.5L477,535.5L477.5,535L478.5,535L479,534.3L480,534.3L480.5,533.5L481.5,532.8L482,532.8L482.5,532.1L483,532.1L484.5,530.6L485,530.6L486,529.6L488,529.6L488.5,528.1L490,527.1L490.5,527.1L491.5,526.1L492.5,526.1L493,525.4L496,524.9L496.5,523.9L501,523.2L501.5,521.6L503,520.7L503.5,520.7L505,519.5L506,519.5L506.5,518.8L508,518.6L508.5,518.1L510,518.1L510.5,517.5L512.5,517.1L513.5,516.4L514,516.4L516,515.3L517,515.3L517.5,514.6L520,514.4L520.5,513.5L521,513.5L522.5,512.8L524,512.8L524.5,512.1L525,512.1L525.5,511.7L529,511.7L529.5,510.5L530,510.5L530.5,510.1L531.5,510.1L532,509.7L532.5,509.7L533,509.3L533.5,509.3L534,508.9L542.5,508.9L543,510.3L543,510.5L538,519.6L527,523.3L526.5,522.4L525.5,523.8L522.5,524.9L522,524.4L521.5,525.3L520.5,525.7L520,524.8L519.5,524.8L518.5,526.6L518,526.8L517.5,526.3L517,527.2L516,527.6L515.5,526.7L514.5,528.1L511.5,529.1L511,528.6L510.5,529.5L509.5,529.9L509,529L508,530.8L507.5,531L507,530.1L505.5,532.3L503,533.6L502,531.9L500.5,534.6L498.5,535.3L498,534.5L497,536.1L496,536.5L495.5,536.4L495,537.3L494.5,537.4L494,536.5L492.5,538.8L490.5,539.9L490,539.8L489.5,540.7L489,540.9L488.5,540.4L487.5,542.2L486,543.1L485.5,542.5L484.5,544.3L479.5,546.4L479,546L478.5,546.9L475,548L471,540.9ZM534.5,427.7L543,427.7L543.5,428.6L544.5,428.6L546.5,431.4L547,433.3L548,433.3L549.5,434.9L550,437.7L552.5,437.7L553,438.7L553.5,438.7L554,439.2L554.5,440.7L555.5,440.7L556,441.2L556.5,442.6L557.5,442.6L558,443.8L559,443.8L561,445.4L561.5,446.7L562.5,446.7L564,448L564.5,449.3L565.5,449.3L567.5,450.8L568,452L569,452L569.5,452.8L570,452.8L570.5,454.4L572,454.4L572.5,455.1L573,455.1L573.5,456.6L575,456.6L576,457.3L576.5,458.1L577,458.1L578,458.8L578.5,459.6L579,459.6L579.5,459.9L580,461.4L581.5,461.4L582.5,462.4L583,462.4L583.5,463.1L584,463.1L584.5,464.8L586.5,464.8L587,465.5L587.5,465.5L588,466.7L589.5,466.7L590,467.2L590.5,467.2L591,467.7L592,468L592.5,469.1L594,469.1L595,469.9L598,470.9L598.5,472L601.5,472L602,472.5L603,472.5L603.5,473.1L606,473.3L606.5,475.2L606.5,475.5L602.5,482.6L602,482.9L601.5,482.8L600.5,484.5L599,483.9L598,483.7L597.5,483.3L594.5,482.5L594,482.2L592.5,479.5L592,479.4L591,481.2L590.5,480.8L590,479.9L589.5,480.3L588,479.4L587.5,478.5L587,479L578,473.2L577.5,472.3L577,472.6L575.5,471.5L575,470.6L574.5,470.7L574,470.4L573,468.6L572.5,469.2L572,468.9L571,467.1L570.5,467.8L563.5,462.4L562,459.7L561.5,459.5L561,460.4L560,459.6L558.5,457L558,457.8L557,457.1L555.5,454.4L555,454L554.5,454.9L552,452.8L551.5,451.9L550,450.9L549.5,450L548.5,449.4L545.5,446.6L544,444L543.5,444.2L542.5,443.2L540.5,439.7L539.5,438.9L534.5,429.8ZM598,518.7L599.5,518.7L602,518.2L602.5,517.9L603.5,517.9L604,517.5L606,517.3L608,516.4L610.5,515.8L611,515.5L611.5,515.5L613.5,514.7L615,514.7L615.5,514L617,513.7L617.5,513.3L618.5,513.3L619,512.7L620,512.5L620.5,512.1L621,512.1L622,511.4L624,511.4L624.5,510.5L625.5,510.5L626,510.1L627,510.1L627.5,509.6L629.5,509.6L630,508.9L633.5,508.7L634,508.3L641,507.3L641.5,506.8L651.5,505.9L656.5,505.4L657.5,504.9L658.5,504.9L659,504.1L661,503.8L661.5,502.3L662,502.3L663.5,501.5L704,500.3L706,499.5L706.5,499.5L732.5,498.9L733,500L733.5,500L733.5,500.1L729,508.5L728.5,508.8L728,508.5L727.5,508.8L727,507.9L726.5,507.6L726,508.5L725.5,508.8L725,508.8L724.5,507.9L724,507.6L723.5,508.5L723,508.8L722.5,508.8L722,507.9L721,508.8L720.5,508.8L719.5,507.1L718.5,508.5L718,508.8L716.5,508.8L716,507.9L715.5,507.6L715,508.5L714.5,508.8L714,507.9L713,508.8L712,507.1L711,508.8L710.5,509.2L710,508.3L709.5,507.9L708.5,509.7L708,510.1L707,508.4L706,510.2L705,510.6L704.5,510.2L704,510.6L700.5,510.5L700,509.6L699.5,509.3L699,510.2L698.5,510.5L696.5,510.6L696,509.7L695.5,509.4L695,510.3L694.5,510.6L693.5,510.7L693,509.8L692,510.7L691,510.7L690.5,510.4L690,510.8L689.5,509.9L688.5,510.8L687,510.8L686.5,510.5L686,510.9L685.5,510.5L685,510.9L684,509.1L683.5,508.7L682,508.9L681,510.6L680.5,511L678,511L677,509.3L676,510.8L675.5,511.1L675,510.2L674.5,509.9L674,510.8L673.5,511.2L673,511.2L672.5,510.3L672,510L671.5,510.9L671,511.2L670.5,510.9L670,511.3L669,511.3L668.5,511L668,511.3L667.5,510.4L667,510.7L666.5,511.6L665,512.7L664.5,512.1L663.5,513.1L663,513.9L662,514.6L661.5,513.9L661,514.8L660,515.3L659.5,514.5L659,514.2L658.5,515.1L658,515.4L657,513.7L656,515.2L653.5,515.8L653,515.5L652.5,515.9L652,515.6L651.5,515.9L650.5,516L650,515.7L648.5,516.1L648,515.9L647,516.4L646.5,515.5L646,515.6L645.5,516.5L644,517.2L643.5,517L643,517.4L642.5,517.3L642,517.6L641.5,517.4L641,517.8L640.5,517.6L640,518L639.5,517.1L638.5,518.1L638,517.9L635.5,518.5L635,518.4L634.5,518.7L634,518.6L632,519.4L631.5,519.4L630.5,519.9L630,519.8L629,520.3L628.5,520.2L626.5,521.1L626,520.6L625.5,521.5L624,522.3L623.5,521.6L623,522.5L622,523.1L621.5,523.1L621,523.4L620.5,522.5L620,522.1L619,523.9L618,524.4L617.5,523.5L617,523.2L616,524.9L615.5,525.3L615,525.3L614.5,525.6L614,525.6L613.5,525.9L613,525.8L612.5,526.2L611.5,524.8L610.5,526.5L609.5,527L609,527L608.5,527.3L608,527.2L607,527.7L606.5,527.6L605.5,528L605,527.2L604.5,527.2L604,528.1L602.5,528.6L598,520.4ZM725,542.9L725.5,541.4L727.5,541.2L728,540.6L728.5,540.6L729.5,539.6L730.5,539.6L731,538.7L731.5,538.7L732.5,537.8L733,537.8L734,536.8L735.5,536.8L736,535.4L736.5,535.4L737,534.7L737.5,534.7L740,532.5L740.5,532.5L743.5,530.4L744,530.4L745.5,529.2L746.5,529.2L747,528.4L748.5,528.2L749,527.4L750.5,527.4L751,526.5L752.5,526.1L753,525.6L753.5,525.6L754,525L754.5,525L756,523.7L757,523.7L757.5,522.7L758,522.7L758.5,521.9L760,521L761,521L761.5,520.3L763.5,519.5L765,519.5L765.5,518.6L767.5,518.6L768,517.6L771,517L771.5,516.3L773,516.1L775,515L775.5,515L776,514.6L776.5,514.6L777,514.2L777.5,514.2L778,513.7L778.5,513.7L779,513.3L781,513.3L781.5,512.5L784,512.4L784.5,511.7L787,511.1L788,510.5L796.5,510.5L796.5,512.6L792.5,519.7L791,521.8L790.5,521.5L790,522.2L789.5,521.3L789,521.2L788,522.8L786.5,523.2L786,522.3L785,523.6L783.5,524.1L783,523.7L782.5,524.4L782,524.1L781.5,524.8L781,524.6L780.5,525.3L780,525L779.5,525.7L778.5,524.2L777,526.7L776.5,526.9L776,526L775,527.4L774,527.8L773,526.2L771.5,528.7L770.5,529.1L770,528.2L769,529.7L768,530.1L767,528.4L765,531.4L764.5,531.7L764,530.8L763.5,530.7L762,533.2L761.5,533.2L760.5,534.3L760,533.4L758.5,535.6L758,535.5L757.5,536.2L757,536.1L756.5,536.8L756,535.9L755.5,536L754.5,537.6L753.5,538.1L753,537.2L752.5,537.1L752,537.8L751.5,538L750.5,539.6L750,539.9L749.5,539L748,541.1L747,539.3L744.5,543.1L744,542.2L743.5,541.8L741.5,545.2L741,545.3L740.5,546L740,546L738.5,547.4L738,546.8L737,548.4L736.5,547.7L735.5,549.3L735,549.2L734,550.2L733.5,549.6L732.5,551.2L732,551L731.5,551.8L731,552L730.5,551.6L730,552.3L729.5,551.6L729,552.3L725,545.2ZM788.5,428L789,427.2L797.5,427.2L798,428.3L798.5,430.6L799,430.6L803.5,436.8L804,439.4L806.5,439.4L807,440.4L807.5,440.4L809,441.9L809.5,445.5L813,445.5L814,446.3L814.5,447.1L815,447.1L817,448.9L817.5,449.7L818,449.7L818.5,451.7L820.5,451.7L821,453.3L822.5,453.3L823,454.5L824,454.5L825,455.3L825.5,456.1L826,456.1L826.5,456.8L827,456.8L827.5,457.2L828,458.7L829.5,458.7L830,460.9L832.5,460.9L833,462.4L834.5,462.4L835.5,463.1L836,464.1L837,464.1L838,464.8L838.5,465.8L839.5,465.8L840,467.5L842,467.5L842.5,468.1L843,468.1L843.5,468.7L846.5,470L847,472L850.5,472L852,472.7L852.5,472.7L853,473.1L854,473.1L854.5,473.8L857,474.2L857.5,474.8L860,475L860.5,476.9L860.5,476.9L855.5,486.1L855,486.3L854.5,486L854,486.2L853,485.8L852,484L851.5,484.9L851,485.1L850,484.8L849.5,484.2L849,484.4L848,483.8L847.5,484L846.5,482.2L846,483.1L845.5,483.3L842.5,481.7L840.5,478.1L839.5,479.7L839,479.9L838.5,479.1L838,479.3L837.5,478.5L837,478.6L835.5,477.6L835,476.7L834.5,476.9L834,476.6L833,474.8L832,475.2L831.5,474.9L830.5,473.1L829.5,473.5L828.5,472.7L828,471.8L827.5,472L825.5,470.5L825,469.6L824.5,469.8L823.5,469L822.5,467.7L822,467.9L821.5,467L821,467.1L820,465.3L819,465.5L818.5,465.1L818,464.2L817.5,464.3L816.5,463.6L816,462.7L815.5,462.8L814,461.6L813.5,460.7L813,460.7L811,457.2L810.5,458L810,458.2L809,456.4L808,456.5L805,453.8L803.5,451.2L802.5,451.3L802,450.5L799.5,448.9L795.5,441.7L795,439.9L794.5,440.8L794,440.9L790,433.8L788.5,430.4ZM851.5,519.6L853.5,519.6L859.5,518.5L860,517.9L861.5,517.9L862,517.4L864.5,516.8L865,516.4L867,516.4L867.5,515.4L869.5,515.2L870,514.2L871,514.2L871.5,513.7L879.5,512.3L880,511.7L880.5,511.7L881,511.4L883,511.4L883.5,510.5L885.5,510.4L886,509.9L888,509.5L892.5,508.7L904,507.8L906.5,507.5L907,506.8L911,506.3L911.5,505.6L912.5,505.6L913,505.3L915,505L918,504.2L919.5,503.5L920,503.5L920.5,503L921,503L921.5,502.5L923,502.5L923.5,501.9L941,500.6L941.5,500.3L986.5,499.2L987,500.2L987,501.3L982.5,509.3L981.5,507.6L981,507.2L980,507.2L978.5,509.5L978,508.6L977.5,509.5L977,509.5L976.5,508.6L976,509.5L975.5,508.6L975,509.5L974.5,508.7L974,509.6L973.5,509.6L972.5,507.8L972,507.4L970.5,509.6L969,509.7L968.5,508.8L968,508.8L967.5,509.7L967,509.7L966.5,508.8L966,509.7L965.5,508.8L965,508.9L964.5,509.8L964,509.8L963.5,508.9L963,509.8L962,508L961.5,507.6L960,509.9L957.5,509.9L957,509.1L956.5,510L956,510L955.5,509.1L955,509.1L954.5,510L953,510L952,508.3L951,510.1L950.5,510.1L950,509.2L949.5,509.3L949,510.2L948.5,510.2L948,509.3L947.5,509.5L947,510.3L946.5,510.4L946,509.7L945.5,510.6L943.5,510.8L943,510L942.5,510.9L941.5,509.1L941,509.3L940,511.1L939.5,510.3L939,511.2L938,509.4L937.5,509.2L936,511.5L935,509.9L934,511.7L933.5,510.8L933,510.9L932.5,511.8L932,511.8L931,510L930.5,510.2L929.5,512L929,512L928.5,511.1L928,511.4L927.5,512.2L926.5,512.5L926,511.6L925.5,511.7L924.5,513.5L924,512.6L923.5,512.4L922.5,514.2L922,513.3L921.5,513L920.5,514.8L920,514.2L919.5,515.1L919,515.2L918.5,514.4L918,515.3L917.5,514.7L917,515.6L916.5,515.7L916,515L915.5,515.9L914,516.3L913.5,515.4L913,515.1L912,516.9L911.5,516.3L911,517.2L909.5,517.6L909,516.9L908.5,517.8L908,517.9L907,516.3L906,518.1L904.5,518.1L904,517.3L903.5,518.2L903,517.4L902.5,518.3L902,518.4L901.5,517.6L901,518.4L900.5,517.6L900,517.7L899.5,518.5L899,517.7L898.5,517.8L898,518.7L897.5,517.8L897,518.7L895.5,518.9L894.5,517.1L894,516.9L892.5,519.6L892,519L891.5,519.9L891,519L890.5,519.3L890,520.2L889,520.4L888.5,519.6L887.5,520.9L887,521L886.5,520.5L886,520.5L885.5,520.9L885,521.7L884.5,521.2L884,522.1L883,522.4L882.5,521.5L882,521.1L881,522.9L880.5,522.2L880,523.1L879.5,522.4L879,523.3L878,521.5L877,521.5L875.5,524.1L875,524.2L874.5,523.7L874,524.6L873,525.1L872.5,524.2L871.5,525.8L870,526.4L869.5,525.9L869,526.8L868,525L867.5,525.1L866,527.7L865,528L864.5,527.4L864,528.3L863,528.6L862.5,527.7L862,527.3L861,529.1L860,527.3L859.5,527.2L858,529.7L857,529.7L856.5,528.9L856,528.7L851.5,520.7ZM978.5,543.4L979,541.9L982,541.6L982.5,540.5L983.5,539.8L985.5,539.8L986,538.3L986.5,538L988,538L988.5,536.6L990,536.6L990.5,535.2L991,535.2L992.5,533.6L993,533.6L993.5,533L994,533L995.5,531.8L998.5,531.8L999,529.7L999.5,529.7L1001,528.7L1001.5,528.7L1003.5,527.4L1004,527.4L1004.5,527L1006.5,527L1007,525.8L1009,525.5L1009.5,524.2L1011,524.2L1011.5,522.8L1012,522.8L1014.5,521L1016,521L1016.5,520.2L1018,520.2L1018.5,519.3L1019,519.3L1020.5,518.5L1021,518.5L1022.5,517.7L1024.5,517.7L1025,516.8L1026,516.6L1027,516.1L1027.5,516.1L1028,515.7L1030.5,515.7L1031,514.4L1032.5,514.2L1033,513.6L1037.5,512.6L1041.5,511L1050,511L1050.5,512.3L1050.5,512.8L1046.5,520L1046,519.8L1045.5,519L1043.5,519.8L1041.5,523.3L1040.5,521.9L1040,522.2L1039,524L1038,522.9L1037,524.6L1036.5,524.8L1036,524.3L1035.5,524.6L1035,525.5L1033,526.3L1032.5,525.8L1032,526.7L1031.5,526.2L1031,526.4L1030.5,527.3L1030,526.7L1029.5,526.9L1029,527.8L1027.5,528.4L1026.5,527.3L1025.5,529.1L1024.5,528.1L1023.5,529.9L1023,529.4L1022.5,530.3L1021.5,530.8L1021,530.3L1020.5,531.2L1019.5,531.6L1018.5,530.2L1018,530.5L1016.5,533.2L1016,533.1L1015.5,534L1014.5,534.7L1014,534.5L1013.5,535.4L1012.5,536L1012,535.5L1011,536.9L1009.5,537.6L1009,537.2L1008.5,538.1L1007.5,536.6L1006,539.2L1005,538.5L1004,540.3L1003.5,540L1003,540.9L1000.5,542.3L1000,541.8L999.5,541.7L998.5,543.5L998,543.2L997.5,544.1L997,543.6L996.5,543.9L995.5,545.6L995,545.5L994.5,546.4L993.5,547.1L993,546.9L992.5,547.8L991.5,548.5L991,547.9L990,549.4L988.5,550.3L988,549.8L987.5,549.8L986.5,551.6L985.5,552.2L984.5,550.7L984,550.9L983,552.7L978.5,545ZM1042.5,427.8L1052,427.9L1052.5,429.9L1053,429.9L1054,431.2L1054.5,435.5L1057.5,435.5L1058,436.4L1058.5,436.4L1059,437.7L1060,437.7L1061,438.7L1061.5,439.7L1062,439.7L1063,440.7L1063.5,442.1L1064.5,442.1L1065,443.9L1066.5,443.9L1067,444.7L1067.5,444.7L1069.5,446.4L1070,447.7L1071,447.7L1071.5,448.1L1072,449.3L1073,449.3L1073.5,450.9L1075,450.9L1076.5,452.1L1077,453.3L1078,453.3L1078.5,454.1L1079,454.1L1079.5,456L1081.5,456L1082,456.7L1082.5,456.7L1083,457.1L1083.5,461.2L1088.5,461.2L1089,461.9L1089.5,461.9L1090.5,462.9L1091,462.9L1092.5,463.9L1093,464.6L1093.5,464.6L1094,465L1094.5,466.9L1097,466.9L1097.5,467.5L1098,467.5L1098.5,468L1099,468L1099.5,468.8L1100.5,468.8L1102,469.9L1106,471.6L1108,471.9L1108.5,472.8L1111,473L1111.5,473.5L1113.5,473.7L1114,475.7L1114,477.6L1109.5,485.5L1108.5,483.7L1107.5,485.1L1107,484.9L1106.5,484L1106,483.6L1105.5,484.4L1104,483.8L1103,482L1102,483.2L1101.5,483.1L1099,478.8L1097.5,481.3L1096.5,479.5L1096,479.5L1095.5,480.2L1095,479.9L1094.5,479L1094,479.4L1093.5,478.5L1093,478.9L1092.5,478.1L1092,478.3L1090,477L1089,475.3L1088.5,476L1087,473.3L1086.5,473.6L1086,474.3L1085,472.5L1084.5,473.2L1084,472.4L1083.5,472.5L1079,469.2L1078,467.4L1077.5,468.1L1077,467.2L1076.5,467.3L1075,466.2L1074.5,465.3L1074,465.4L1073.5,464.5L1073,464.6L1072.5,464.2L1071,461.5L1070.5,461.5L1070,462.2L1069,461.5L1068.5,460.6L1068,460.6L1066.5,458.5L1066,459L1063.5,455L1062.5,456L1062,455.1L1061.5,455.2L1060.5,454.3L1060,453.4L1059.5,453.4L1057.5,450.2L1057,450.9L1055.5,448.3L1055,449L1054,447.7L1053.5,447.7L1053,446.8L1050,443.6L1048.5,440.9L1048,440.6L1042.5,430.5ZM1105.5,520.4L1110.5,520L1117,518.9L1117.5,517.8L1118,517.8L1119.5,517L1120.5,517L1121,516.4L1124,516L1124.5,514.8L1128,514.4L1128.5,513.9L1131,513.6L1131.5,513.3L1133,513.3L1133.5,512.7L1137,512.2L1137.5,511.3L1141.5,510.4L1157.5,508.7L1161,507.9L1161.5,507.5L1162.5,507.5L1164,506.8L1165.5,506.8L1166,506.3L1171,505.7L1171.5,505L1173.5,505L1174,504.1L1176,504.1L1176.5,503L1187.5,502.2L1188,501.9L1239,500L1239.5,501L1241,501L1241,501.5L1236.5,509.9L1235.5,509.9L1235,509.6L1234.5,509.9L1234,510L1233,509.1L1232.5,510L1232,510L1231,509.1L1230.5,510L1229,510.1L1228.5,509.7L1227.5,507.9L1226,510.1L1225.5,510.1L1225,509.8L1224.5,510.2L1224,510.2L1223.5,509.8L1223,508.9L1222,510.2L1221.5,510.2L1221,509.9L1220.5,510.3L1220,509.9L1219,508.1L1217.5,510.3L1217,510L1216.5,510.3L1214.5,510.4L1214,510L1213,508.7L1212,510.5L1211,510.5L1210,509.6L1209.5,510.5L1208.5,509.7L1208,510.5L1207.5,510.6L1207,510.2L1206.5,510.6L1205.5,509.7L1205,510.6L1204,510.6L1203.5,510.3L1202.5,508.5L1201.5,509.9L1201,509.6L1200,511L1199.5,511.1L1198.5,510.4L1198,511.2L1197.5,510.9L1197,511.3L1196.5,511.4L1196,511L1195.5,511.5L1195,511.1L1194.5,511.6L1193.5,510.9L1193,511.8L1192.5,511.4L1192,511.9L1190,512.1L1189.5,511.7L1189,510.8L1188.5,510.5L1187.5,512.3L1187,512.3L1186.5,512L1186,512.4L1185.5,512.4L1185,512L1184.5,512.4L1184,512.5L1183.5,512.1L1183,511.2L1182,512.7L1181,512.1L1180.5,513L1179,513.8L1178.5,513.4L1178,514.2L1176.5,514.7L1176,514.4L1175.5,515.1L1174,515.5L1173,514.9L1172.5,515.8L1172,515.4L1171.5,514.5L1171,514.6L1170,516.3L1169,516.6L1168.5,516.2L1168,515.4L1167,517.1L1166.5,517.3L1166,516.9L1165.5,517.6L1165,517.7L1164.5,517.4L1163.5,515.9L1162,518.5L1160.5,518.6L1160,518.3L1159,516.9L1158,518.7L1157.5,518.8L1156.5,518L1156,518.9L1155.5,518.5L1155,519L1153,519.1L1152.5,518.8L1152,519.2L1151.5,518.8L1151,519.3L1150.5,518.9L1149.5,517.2L1148.5,517.4L1147,519.9L1146.5,519.6L1146,520.3L1145.5,519.9L1145,520.5L1144.5,520.1L1144,520.7L1143.5,520.4L1143,521L1142,520.5L1141.5,521.4L1141,521.6L1139,520.1L1137.5,522.8L1136.5,523.1L1136,522.7L1135.5,523.3L1135,523.5L1134.5,523.1L1134,522.2L1133.5,522.1L1132.5,523.9L1131,524.2L1130.5,523.9L1130,523L1129.5,523.2L1128.5,524.9L1127,525.7L1126,524.8L1125,526.6L1124.5,526.8L1123.5,525.7L1122.5,527.5L1122,527.2L1121.5,527.9L1118.5,528.7L1117.5,528.2L1117,529.1L1116.5,528.8L1116,527.9L1115,529.6L1114,529.8L1113.5,529.4L1112.5,527.9L1112,528L1110.5,530.3L1110,530L1105.5,521.8ZM1232.5,543.4L1233,541.9L1234.5,541.9L1235.5,541.1L1236,541.1L1236.5,540.5L1238,540.5L1238.5,539.2L1239.5,539.2L1240,538.3L1241,538.3L1241.5,537.3L1242.5,536.6L1243,536.6L1244.5,535.2L1245,535.2L1246.5,533.6L1247,533.6L1247.5,533L1248,533L1249.5,531.8L1250.5,531.8L1251,530.9L1252,530.9L1252.5,530L1253.5,530L1254,529.2L1254.5,529.2L1255.5,528.4L1256,528.4L1257,527.7L1259.5,527.7L1260,526.4L1261,526.1L1262.5,524.9L1264,524.9L1264.5,523.5L1267,523.5L1267.5,521.5L1268.5,521.5L1269,520.8L1270.5,520.6L1271,520L1273,520L1273.5,518.9L1276,518.3L1276.5,517.7L1277.5,517.7L1278.5,517L1279.5,517L1281,516.1L1281.5,516.1L1282,515.7L1284,515.7L1284.5,514.7L1286,514L1286.5,514L1288,513.3L1290.5,513.3L1291,512.5L1293.5,512.1L1294,511.6L1295,511.6L1295.5,511L1304.5,510.8L1305,512.2L1305,512.4L1301,519.5L1299.5,521.8L1298.5,522L1297.5,522.5L1296,522.8L1295.5,522.3L1295,523.2L1292.5,523.7L1292,522.8L1291,524.4L1290.5,524.4L1290,523.5L1289.5,523.7L1288.5,525.4L1286.5,526L1286,526.4L1285.5,526.4L1285,525.5L1284,527.2L1283,527.4L1282.5,527L1282,527.9L1281,528.1L1280,528.7L1279.5,528.7L1279,527.8L1278.5,527.9L1277.5,529.6L1276,530.3L1275.5,530.3L1274.5,531L1273.5,530.7L1273,531.6L1272,531.8L1269.5,533.7L1269,533.7L1267.5,535.1L1267,535.1L1266.5,534.6L1265.5,536.4L1264.5,536.3L1264,537.2L1262,538L1261,537.8L1260.5,538.7L1259.5,538.6L1259,539.5L1258.5,539.5L1257.5,540.3L1257,540.3L1256,541.2L1255.5,541.2L1254.5,542.1L1254,542.1L1253.5,541.4L1252.5,543.2L1252,543.2L1251.5,543.9L1250.5,543.6L1249.5,545.4L1249,545.4L1248.5,545L1247.5,546.8L1247,546.8L1246.5,546.4L1245.5,548.2L1245,548.5L1244.5,548.5L1243.5,549.5L1243,549.5L1241.5,550.7L1241,550.7L1240.5,551.3L1239.5,551.2L1239,552.1L1236.5,552.4L1232.5,545.3Z" fill="#00f" clip-path="url(#pm)"/>
<path d="M1169,486.5H1178L1173.5,494.5ZM1232.7,517H1241.7L1237.2,525ZM1296.1,426H1305.1L1300.6,434ZM1296.1,482.4H1305.1L1300.6,490.4ZM344.3,516.5H353.3L348.8,524.5ZM343.3,519H352.3L347.8,527ZM471.1,538.3H480.1L475.6,546.3ZM470.5,540.8H479.5L475,548.8ZM598.1,519.5H607.1L602.6,527.5ZM597.1,522H606.1L601.6,530ZM725,542.3H734L729.5,550.3ZM724.4,544.8H733.4L728.9,552.8ZM852,520.5H861L856.5,528.5ZM851,523H860L855.5,531ZM978.8,542.8H987.8L983.3,550.8ZM978.2,545.3H987.2L982.7,553.3ZM1105.8,521.3H1114.8L1110.3,529.3ZM1104.8,523.8H1113.8L1109.3,531.8ZM1232.6,542.8H1241.6L1237.1,550.8ZM1232,545.3H1241L1236.5,553.3Z" fill="#00f" clip-path="url(#pm)"/>
<path d="M1173.5,490V504" stroke="#00f" stroke-width="2"/>
</g>
</svg>
</body></html>
